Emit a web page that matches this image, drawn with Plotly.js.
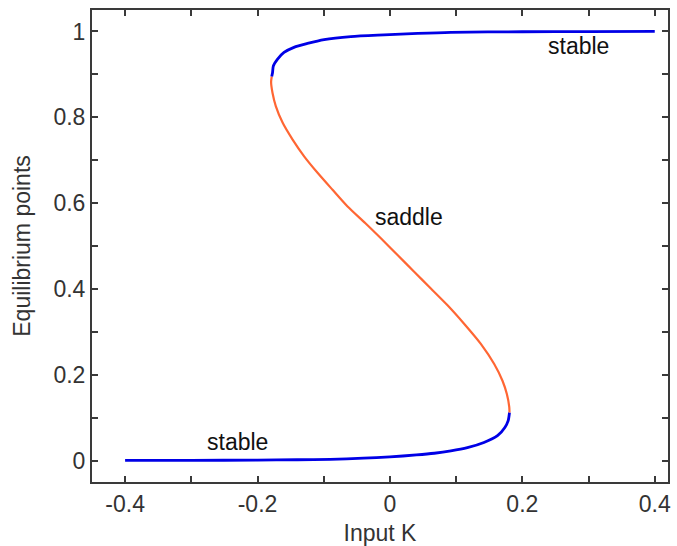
<!DOCTYPE html>
<html>
<head>
<meta charset="utf-8">
<script src="https://cdn.plot.ly/plotly-3.0.1.min.js"></script>
<style>html,body{margin:0;padding:0;background:#fff;}#chart{width:677px;height:546px;}</style>
</head>
<body>
<div id="chart"></div>
<script>
// Lower stable branch (blue)
const lowerK = [-0.40, -0.30, -0.20, -0.14, -0.09, -0.04, 0.0, 0.04, 0.067, 0.092, 0.117, 0.142, 0.1625, 0.1736, 0.1786, 0.1806];
const lowerX = [0.0002, 0.0004, 0.0010, 0.0018, 0.0028, 0.0055, 0.0085, 0.013, 0.017, 0.0225, 0.030, 0.042, 0.058, 0.077, 0.093, 0.112];
// Saddle branch (orange)
const saddleK = [0.1806, 0.1802, 0.1766, 0.170, 0.1575, 0.1373, 0.112, 0.087, 0.0618, 0.0366, 0.0115, -0.0137, -0.037, -0.064, -0.0867, -0.109, -0.1296, -0.147, -0.162, -0.1724, -0.1774, -0.1795, -0.1785];
const saddleX = [0.112, 0.125, 0.155, 0.186, 0.225, 0.272, 0.319, 0.362, 0.401, 0.440, 0.479, 0.518, 0.553, 0.592, 0.631, 0.670, 0.709, 0.748, 0.787, 0.826, 0.857, 0.882, 0.895];
// Upper stable branch (blue)
const upperK = [-0.1785, -0.1774, -0.176, -0.170, -0.160, -0.145, -0.1245, -0.0994, -0.059, -0.009, 0.042, 0.092, 0.20, 0.30, 0.40];
const upperX = [0.895, 0.903, 0.920, 0.935, 0.951, 0.963, 0.972, 0.981, 0.988, 0.992, 0.9955, 0.998, 0.9993, 0.9998, 1.0];

const xTickVals = [-0.4, -0.3, -0.2, -0.1, 0, 0.1, 0.2, 0.3, 0.4];
const xTickText = ["-0.4", "", "-0.2", "", "0", "", "0.2", "", "0.4"];
const yTickVals = [0, 0.1, 0.2, 0.3, 0.4, 0.5, 0.6, 0.7, 0.8, 0.9, 1];
const yTickText = ["0", "", "0.2", "", "0.4", "", "0.6", "", "0.8", "", "1"];

const labels = ["stable", "saddle", "stable"];
const labelK = [-0.28, -0.026, 0.236];
const labelX = [0.043, 0.568, 0.966];

const FONT = "Liberation Sans, Arial, Helvetica, sans-serif";
const BLUE = "#0000e6";
const ORANGE = "#ff6633";
const AX = "#3a3a3a";
const TXT = "#333333";

const traces = [
  {x: lowerK, y: lowerX, mode: "lines", line: {color: BLUE, width: 2.8, shape: "spline", smoothing: 0.7}, hoverinfo: "skip"},
  {x: saddleK, y: saddleX, mode: "lines", line: {color: ORANGE, width: 2.2, shape: "spline", smoothing: 0.7}, hoverinfo: "skip"},
  {x: upperK, y: upperX, mode: "lines", line: {color: BLUE, width: 2.8, shape: "spline", smoothing: 0.7}, hoverinfo: "skip"}
];

const axisCommon = {
  showline: true, linecolor: AX, linewidth: 2, mirror: "allticks",
  ticks: "inside", ticklen: 6, tickwidth: 2, tickcolor: AX,
  showgrid: false, zeroline: false,
  tickfont: {family: FONT, size: 23, color: TXT},
  tickmode: "array"
};

const layout = {
  width: 677, height: 546,
  margin: {l: 92, r: 9, t: 10, b: 64},
  paper_bgcolor: "#ffffff", plot_bgcolor: "#ffffff",
  showlegend: false,
  font: {family: FONT, size: 23, color: TXT},
  xaxis: Object.assign({}, axisCommon, {
    range: [-0.45, 0.42], tickvals: xTickVals, ticktext: xTickText,
    title: {text: "Input K", font: {family: FONT, size: 23, color: TXT}, standoff: 10}
  }),
  yaxis: Object.assign({}, axisCommon, {
    range: [-0.05, 1.05], tickvals: yTickVals, ticktext: yTickText,
    title: {text: "Equilibrium points", font: {family: FONT, size: 23, color: TXT}, standoff: 16}
  }),
  annotations: labels.map((t, i) => ({
    x: labelK[i], y: labelX[i], xref: "x", yref: "y", text: t, showarrow: false,
    xanchor: "left", yanchor: "middle",
    font: {family: FONT, size: 23, color: "#111111"}
  }))
};

Plotly.newPlot("chart", traces, layout, {displayModeBar: false, staticPlot: true});
</script>
</body>
</html>
